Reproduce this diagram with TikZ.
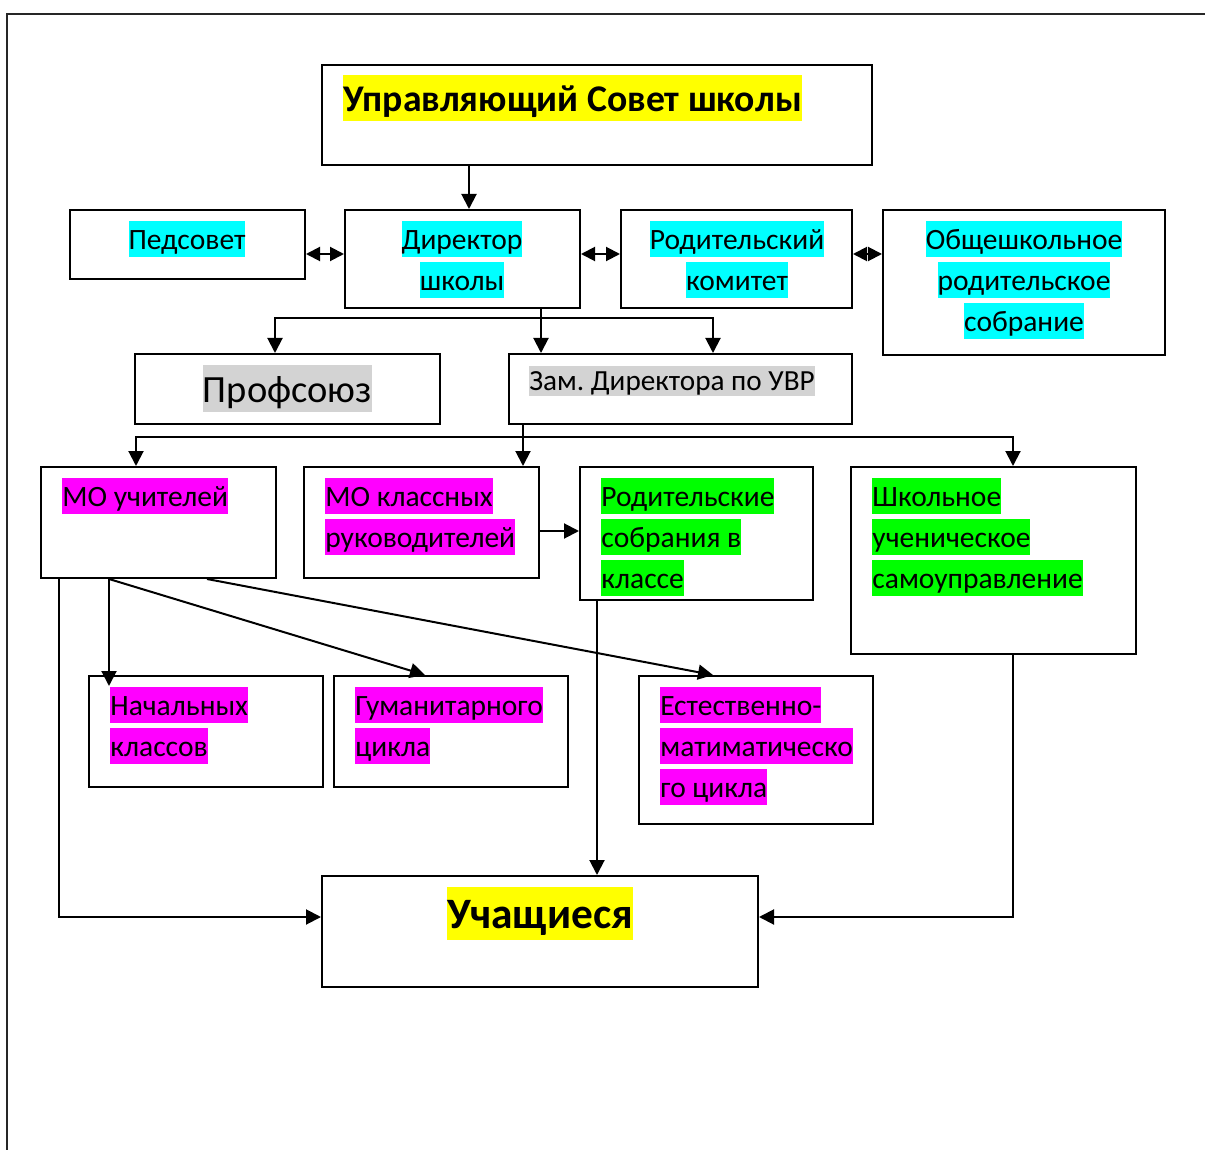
\documentclass[tikz,border=0pt]{standalone}
\usepackage{fontspec}
\setmainfont{Carlito}
\usetikzlibrary{arrows.meta,fit,calc}
\definecolor{hlyellow}{RGB}{255,255,0}
\definecolor{hlcyan}{RGB}{0,255,255}
\definecolor{hlmag}{RGB}{255,0,255}
\definecolor{hlgreen}{RGB}{0,255,0}
\definecolor{hlgrey}{RGB}{211,211,211}
\frenchspacing
\newcommand{\hl}[2]{{\setlength{\fboxsep}{0pt}\colorbox{#1}{\rule[-0.269em]{0pt}{1.221em}#2}}}
\newcommand{\hlz}[2]{{\setlength{\fboxsep}{0pt}\colorbox{#1}{\rule[-0.2em]{0pt}{1.02em}#2}}}
\begin{document}
\begin{tikzpicture}[x=0.5pt,y=-0.5pt,
  box/.style={draw, line width=1pt, inner sep=0pt},
  txt/.style={inner sep=0pt, font=\fontsize{14.75pt}{20.5pt}\selectfont},
  txtl/.style={txt, anchor=north west, align=left},
  txtc/.style={txt, anchor=north, align=center},
  conn/.style={line width=1pt},
  arr/.style={conn, -{Triangle[length=7.5pt,width=7.5pt]}},
  darr/.style={conn, {Triangle[length=7pt,width=7pt]}-{Triangle[length=7pt,width=7pt]}},
  frame/.style={line width=1.1pt, black!85}]
\useasboundingbox (0,0) rectangle (1205,1150);
\draw[frame] (7,1150) -- (7,14) -- (1205,14);

% boxes
\node[box, fit={(322,65) (872,165)}] (usc) {};
\node[box, fit={(70,210) (305,279)}] (ped) {};
\node[box, fit={(345,210) (580,308)}] (dir) {};
\node[box, fit={(621,210) (852,308)}] (rkom) {};
\node[box, fit={(883,210) (1165,355)}] (obs) {};
\node[box, fit={(135,354) (440,424)}] (prof) {};
\node[box, fit={(509,354) (852,424)}] (zam) {};
\node[box, fit={(41,467) (276,578)}] (mou) {};
\node[box, fit={(304,467) (539,578)}] (mok) {};
\node[box, fit={(580,467) (813,600)}] (rsk) {};
\node[box, fit={(851,467) (1136,654)}] (shk) {};
\node[box, fit={(89,676) (323,787)}] (nach) {};
\node[box, fit={(334,676) (568,787)}] (hum) {};
\node[box, fit={(639,676) (873,824)}] (est) {};
\node[box, fit={(322,876) (758,987)}] (uch) {};

% texts
\node[txtl, font=\fontsize{18.84pt}{23pt}\selectfont\bfseries] (t-usc) at (343,75) {\hl{hlyellow}{Управляющий Совет школы}};
\node[txtc] (t-ped) at (187,221) {\hl{hlcyan}{Педсовет}};
\node[txtc] (t-dir) at (462,221) {\hl{hlcyan}{Директор}\\\hl{hlcyan}{школы}};
\node[txtc] (t-rkom) at (737,221) {\hl{hlcyan}{Родительский}\\\hl{hlcyan}{комитет}};
\node[txtc] (t-obs) at (1024,221) {\hl{hlcyan}{Общешкольное}\\\hl{hlcyan}{родительское}\\\hl{hlcyan}{собрание}};
\node[txtc, font=\fontsize{19.25pt}{24pt}\selectfont] (t-prof) at (287.5,365) {\hl{hlgrey}{Профсоюз}};
\node[txtl, font=\fontsize{14.6pt}{18pt}\selectfont] (t-zam) at (529,366) {\hlz{hlgrey}{Зам. Директора по УВР}};
\node[txtl] (t-mou) at (62,478) {\hl{hlmag}{МО учителей}};
\node[txtl] (t-mok) at (325,478) {\hl{hlmag}{МО классных}\\\hl{hlmag}{руководителей}};
\node[txtl] (t-rsk) at (601,478) {\hl{hlgreen}{Родительские}\\\hl{hlgreen}{собрания в}\\\hl{hlgreen}{классе}};
\node[txtl] (t-shk) at (872,478) {\hl{hlgreen}{Школьное}\\\hl{hlgreen}{ученическое}\\\hl{hlgreen}{самоуправление}};
\node[txtl] (t-nach) at (110,687) {\hl{hlmag}{Начальных}\\\hl{hlmag}{классов}};
\node[txtl] (t-hum) at (355,687) {\hl{hlmag}{Гуманитарного}\\\hl{hlmag}{цикла}};
\node[txtl] (t-est) at (660,687) {\hl{hlmag}{Естественно-}\\\hl{hlmag}{матиматическо}\\\hl{hlmag}{го цикла}};
\node[txtc, font=\fontsize{21.7pt}{26pt}\selectfont\bfseries] (t-uch) at (540,887) {\hl{hlyellow}{Учащиеся}};

% connectors
\draw[arr] (469,0 |- usc.south) -- (469,0 |- dir.north);
\draw[darr] (ped.east |- 0,254) -- (dir.west |- 0,254);
\draw[darr] (dir.east |- 0,254) -- (rkom.west |- 0,254);
\draw[darr] (rkom.east |- 0,254) -- (obs.west |- 0,254);

\coordinate (j1) at (541,318);
\draw[arr] (541,0 |- dir.south) -- (541,0 |- zam.north);
\draw[arr] (j1) -| (275,0 |- prof.north);
\draw[arr] (j1) -| (713,0 |- zam.north);

\coordinate (j2) at (523,437);
\draw[arr] (523,0 |- zam.south) -- (523,0 |- mok.north);
\draw[arr] (j2) -| (136,0 |- mou.north);
\draw[arr] (j2) -| (1013,0 |- shk.north);

\draw[arr] (mok.east |- 0,531) -- (rsk.west |- 0,531);

\draw[arr] (109,0 |- mou.south) -- ($(109,0 |- nach.north)+(0,11)$);
\draw[arr] (109,0 |- mou.south) -- (425,0 |- hum.north);
\draw[arr] (207,0 |- mou.south) -- (713,0 |- est.north);
\draw[arr] (59,0 |- mou.south) |- (uch.west |- 0,917);
\draw[arr] (597,0 |- rsk.south) -- (597,0 |- uch.north);
\draw[arr] (1013,0 |- shk.south) |- (uch.east |- 0,917);
\end{tikzpicture}
\end{document}
